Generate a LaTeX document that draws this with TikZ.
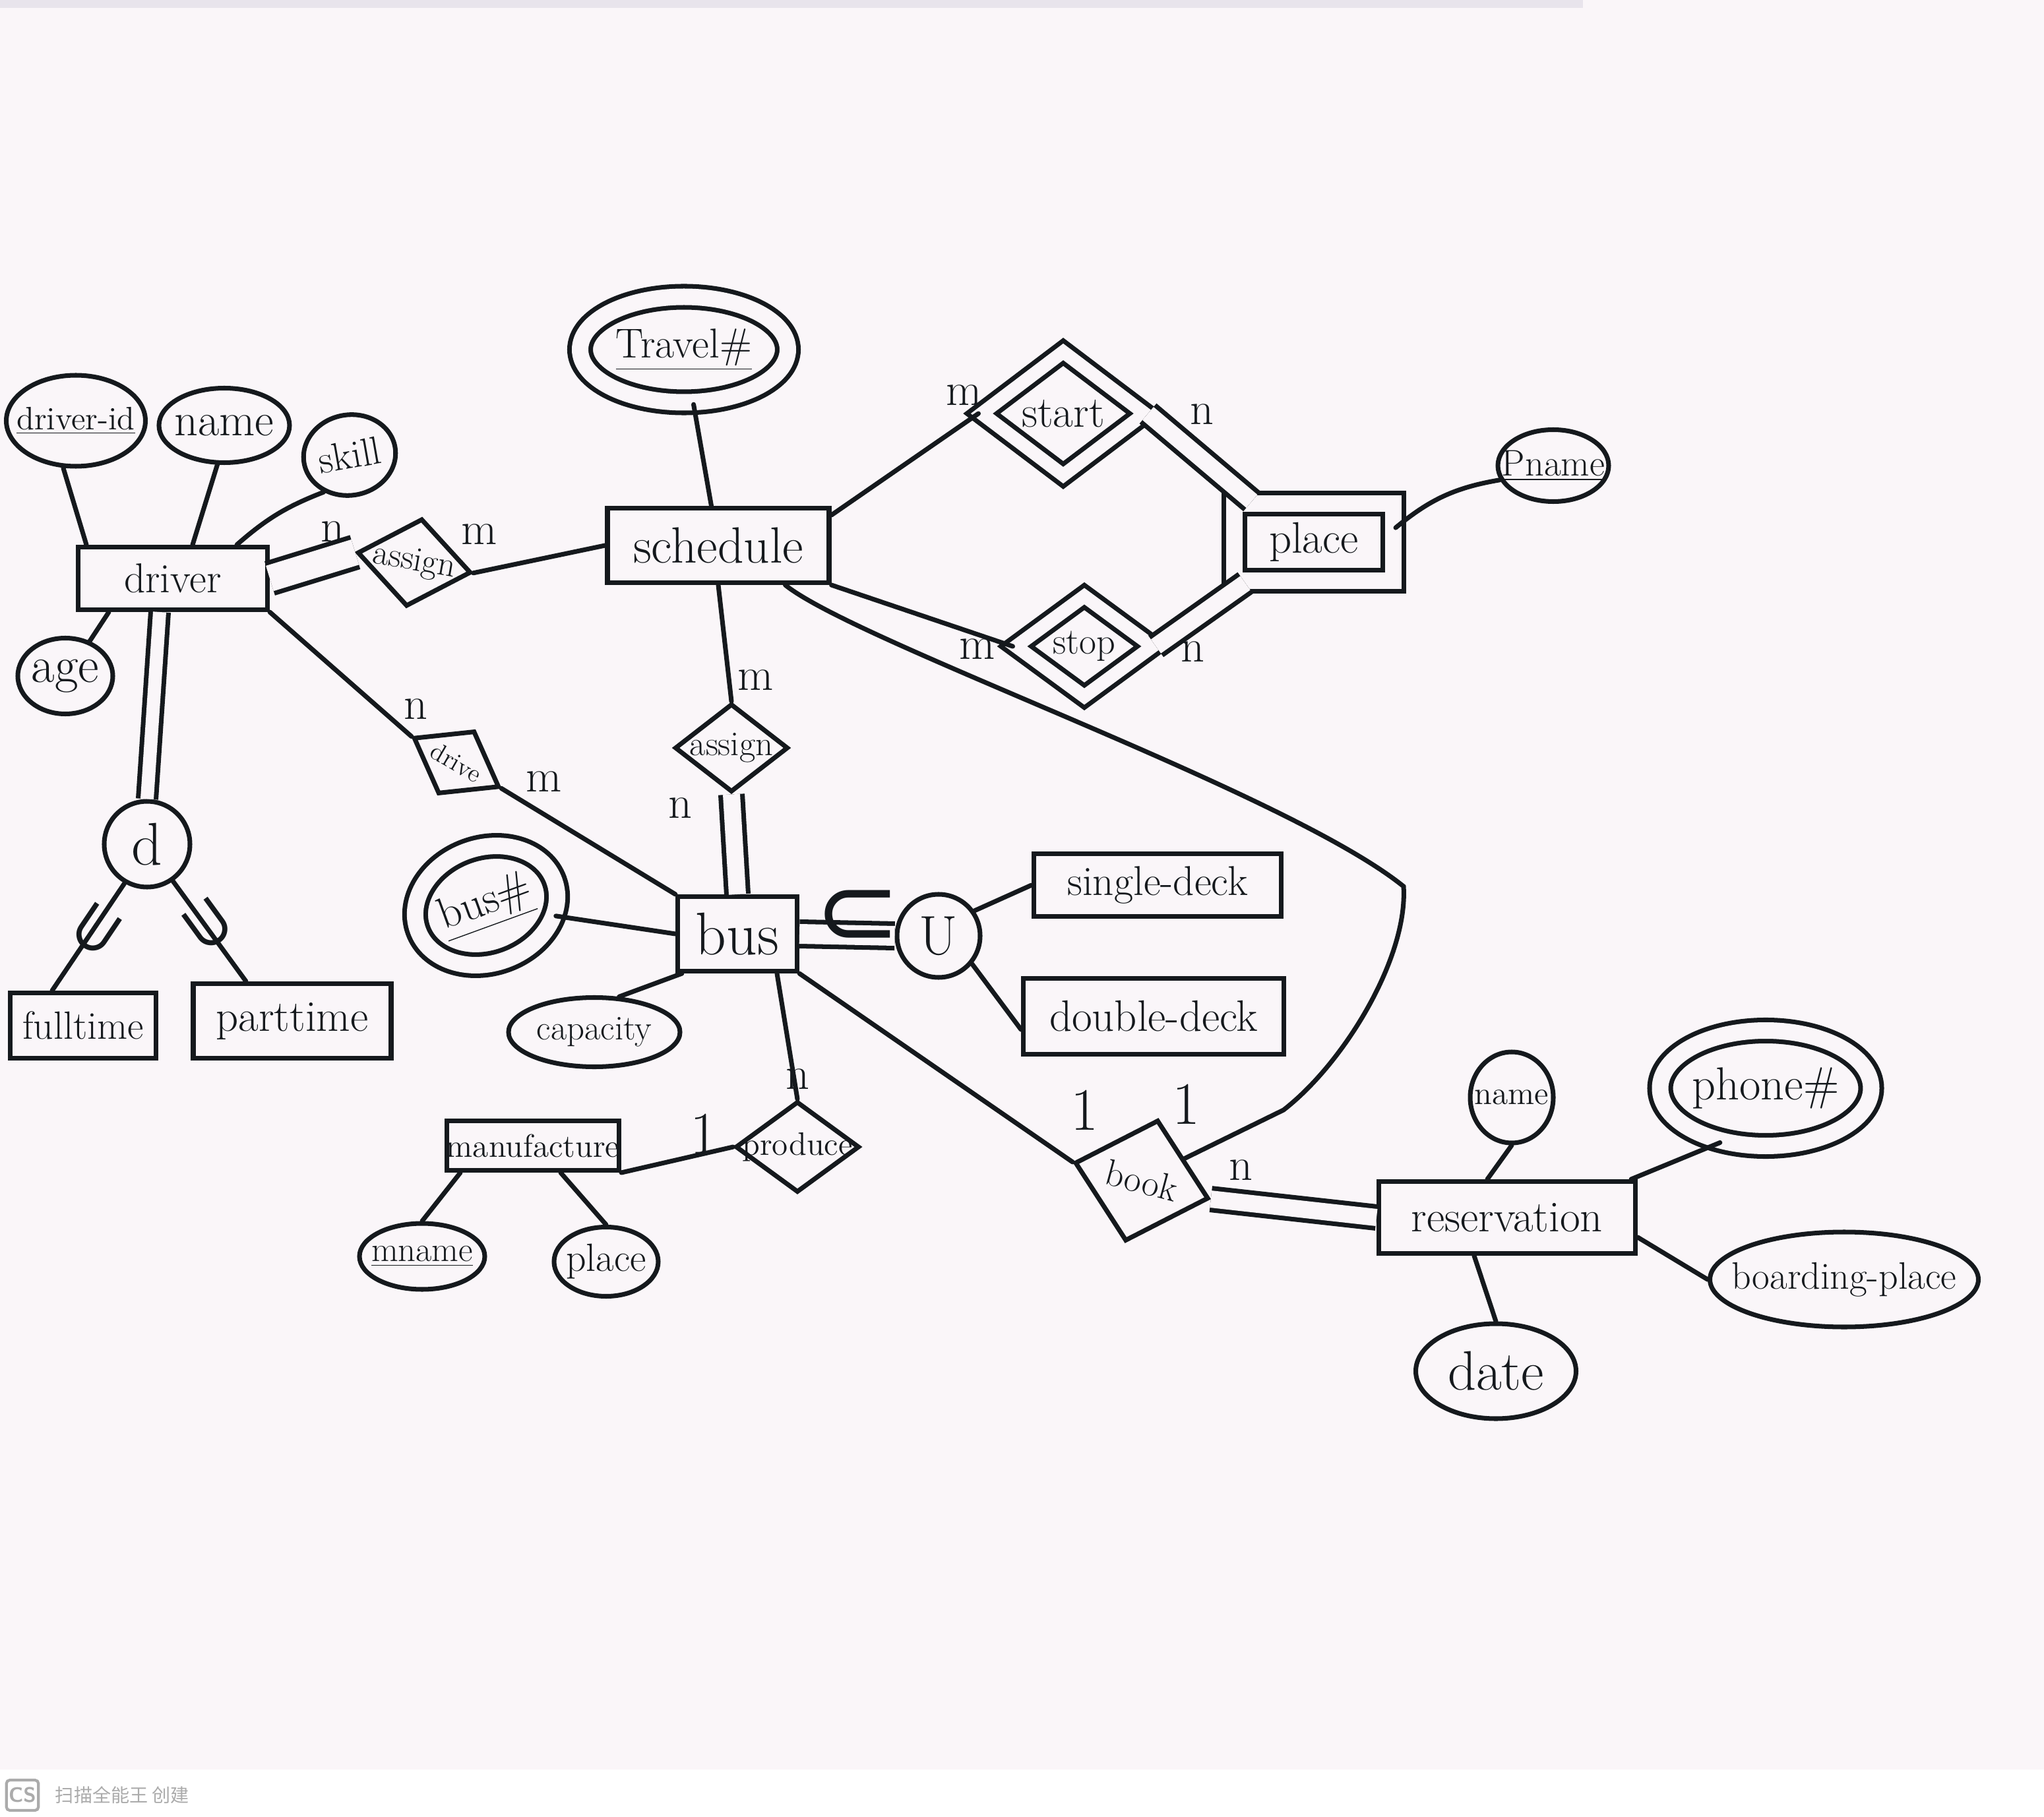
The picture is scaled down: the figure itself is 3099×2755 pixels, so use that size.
\documentclass[tikz,border=0pt]{standalone}
\usepackage{fontspec}
\newfontfamily\cjk{Noto Sans CJK SC}
\newfontfamily\symf{DejaVu Sans}
\usetikzlibrary{shapes.geometric, positioning}
\definecolor{ink}{HTML}{15191D}
\definecolor{paper}{HTML}{FAF6F9}
\definecolor{band}{HTML}{E8E4EC}
\definecolor{wmgray}{HTML}{ABABAB}
\newcommand{\fsz}[1]{\fontsize{#1}{#1}\selectfont}
\newcommand{\ctext}[1]{\makebox[0pt]{#1}}
\tikzset{
  erd/.style = {line width=2pt, draw=ink, text=ink, font=\fsz{18}},
  ent/.style = {rectangle, draw=ink, line width=2pt, inner sep=0pt},
  weakent/.style = {ent, double=paper, double distance=2.5mm},
  attr/.style = {ellipse, draw=ink, line width=2pt, inner sep=0pt},
  multiattr/.style = {attr, double=paper, double distance=2.5mm},
  rel/.style = {diamond, draw=ink, line width=2pt, inner sep=0pt},
  weakrel/.style = {rel, double=paper, double distance=2mm},
  spec/.style = {circle, draw=ink, line width=2pt, inner sep=0pt},
  subsym/.style = {inner sep=0pt, font=\symf\fsz{30}, sloped, allow upside down, text=ink},
  card/.style = {inner sep=1pt, font=\fsz{20}, text=ink},
  link/.style = {draw=ink, line width=2pt, line cap=round},
  total/.style = {draw=ink, line width=2pt, double=paper, double distance=2.6mm},
  wmlogo/.style = {draw=wmgray, rounded corners=1.5pt, line width=1.2pt, text=wmgray,
    font=\sffamily\bfseries\fsz{9}, inner sep=1pt, minimum size=4.6mm},
  wmtext/.style = {text=wmgray, font=\cjk\fsz{8}, inner sep=0pt},
}

\begin{document}
\begin{tikzpicture}[erd, x=0.1mm, y=-0.1mm]

\useasboundingbox (0,0) rectangle (3099,2755);
\fill[paper] (0,0) rectangle (3099,2683);
\fill[band] (0,0) rectangle (2400,12);
\fill[white] (0,2683) rectangle (3099,2755);

% driver side
\node[ent, minimum width=28.7mm, minimum height=9.5mm, font=\fsz{18}] (driver) at (262,877) {\ctext{driver}};
\node[attr, minimum width=21.1mm, minimum height=13.8mm, font=\fsz{14}] (driverid) at (115,638) {\ctext{\underline{driver-id}}};
\node[attr, minimum width=19.8mm, minimum height=11.3mm, font=\fsz{20}] (dname) at (340,645) {\ctext{name}};
\node[attr, minimum width=14mm, minimum height=12.2mm, font=\fsz{17}, rotate=10] (skill) at (530,690) {\ctext{skill}};
\node[attr, minimum width=14.4mm, minimum height=11.5mm, font=\fsz{22}] (age) at (99,1025) {\ctext{age}};
\node[rel, minimum width=17.5mm, minimum height=13.5mm, font=\fsz{15}, rotate=-10] (assignA) at (628,853) {\ctext{assign}};
\node[spec, minimum size=13mm, font=\fsz{26}] (dcirc) at (223,1280) {\ctext{d}};
\node[ent, minimum width=22.1mm, minimum height=9.9mm, font=\fsz{17}] (fulltime) at (126,1555) {\ctext{fulltime}};
\node[ent, minimum width=30mm, minimum height=11.3mm, font=\fsz{19}] (parttime) at (443,1548) {\ctext{parttime}};

% schedule and place
\node[ent, minimum width=33.6mm, minimum height=11.3mm, font=\fsz{22}] (sched) at (1089,827) {\ctext{schedule}};
\node[multiattr, minimum width=31.5mm, minimum height=16mm, font=\fsz{18}] (travel) at (1037,530) {\ctext{\underline{Travel\#}}};
\node[weakrel, minimum width=25mm, minimum height=19mm, font=\fsz{19}] (start) at (1612,627) {\ctext{start}};
\node[weakrel, minimum width=21mm, minimum height=15.5mm, font=\fsz{16}] (stop) at (1644,980) {\ctext{stop}};
\node[weakent, minimum width=24.1mm, minimum height=11.7mm, font=\fsz{19}] (place) at (1992,822) {\ctext{place}};
\node[attr, minimum width=16.8mm, minimum height=10.9mm, font=\fsz{16}] (pname) at (2355,706) {\ctext{\underline{Pname}}};
\node[rel, minimum width=17.2mm, minimum height=13.4mm, font=\fsz{15}] (assignB) at (1109,1134) {\ctext{assign}};
\node[rel, minimum width=15mm, minimum height=11mm, font=\fsz{11}, rotate=-30] (drive) at (692,1156) {\ctext{drive}};

% bus
\node[ent, minimum width=18.1mm, minimum height=11.3mm, font=\fsz{26}] (bus) at (1118,1416) {\ctext{bus}};
\node[multiattr, minimum width=22mm, minimum height=17.5mm, font=\fsz{19}, rotate=20] (busno) at (737,1373) {\ctext{\underline{bus\#}}};
\node[attr, minimum width=26mm, minimum height=10.5mm, font=\fsz{15}] (capacity) at (901,1565) {\ctext{capacity}};
\node[spec, minimum size=12.6mm, font=\fsz{24}] (uni) at (1423,1419) {\ctext{U}};
\node[ent, minimum width=37.5mm, minimum height=9.5mm, font=\fsz{18}] (sdeck) at (1755,1342) {\ctext{single-deck}};
\node[ent, minimum width=39.5mm, minimum height=11.5mm, font=\fsz{19}] (ddeck) at (1749,1541) {\ctext{double-deck}};
\node[ent, minimum width=26.1mm, minimum height=7.5mm, font=\fsz{14}] (manu) at (808,1737) {\ctext{manufacture}};
\node[attr, minimum width=19mm, minimum height=10mm, font=\fsz{15}] (mname) at (640,1905) {\ctext{\underline{mname}}};
\node[attr, minimum width=15.8mm, minimum height=10.5mm, font=\fsz{17}] (mplace) at (919,1913) {\ctext{place}};
\node[rel, minimum width=18.8mm, minimum height=13.8mm, font=\fsz{14}] (produce) at (1209,1739) {\ctext{produce}};

% booking
\node[rel, minimum width=21mm, minimum height=19mm, font=\fsz{16}, rotate=-15] (book) at (1731,1790) {\ctext{book}};
\node[ent, minimum width=38.9mm, minimum height=10.9mm, font=\fsz{19}] (resv) at (2285,1846) {\ctext{reservation}};
\node[attr, minimum width=12.6mm, minimum height=13.8mm, font=\fsz{14}] (rname) at (2292,1664) {\ctext{name}};
\node[multiattr, minimum width=32mm, minimum height=17.5mm, font=\fsz{20}] (phone) at (2677,1650) {\ctext{phone\#}};
\node[attr, minimum width=40.7mm, minimum height=14.4mm, font=\fsz{16.5}] (board) at (2796,1940) {\ctext{boarding-place}};
\node[attr, minimum width=24.3mm, minimum height=14.4mm, font=\fsz{24}] (date) at (2268,2079) {\ctext{date}};

\coordinate (bendA) at (2128,1344);
\coordinate (bendB) at (1946,1683);

% connectors
\draw[link] (driverid.-105) -- ([xshift=1.6mm]driver.north west);
\draw[link] (dname.-100) -- ([xshift=3mm]driver.north);
\draw[link] (skill.-135) to[bend right=10] ([xshift=-5mm]driver.north east);
\draw[link] (age.55) -- ([xshift=5mm]driver.south west);
\draw[total, double distance=4mm] (driver.east) -- (assignA.west);
\draw[link] (assignA.east) -- (sched.west);
\draw[link] (travel) -- (sched);
\draw[link] (sched.15) -- (start.west);
\draw[total] (start.east) -- ([xshift=3mm]place.north west);
\draw[link] (sched.south east) -- (stop.west);
\draw[total] (stop.east) -- ([xshift=2mm]place.south west);
\draw[link] (place.10) to[bend left=15] (pname.-165);
\draw[link] (sched.south) -- (assignB.north);
\draw[total] (assignB.south) -- (bus.north);
\draw[link] (driver.south east) -- (drive.west);
\draw[link] (drive.east) -- (bus.north west);
\draw[link] (busno) -- (bus.west);
\draw[link] (capacity.55) -- ([xshift=1mm]bus.south west);
\draw[total, double distance=3mm] (bus.east) -- (uni.west);
\node[subsym, font=\symf\fsz{44}] (subbus) at (1300,1392) {⊂};
\draw[link] (uni.35) -- (sdeck.west);
\draw[link] (uni.-40) -- ([yshift=-2mm]ddeck.west);
\draw[total, double distance=2mm] ([xshift=-2mm]driver.south) -- (dcirc.north);
\draw[link] (dcirc.-120) -- node[subsym, pos=0.42] (subfull) {⊃} ([xshift=-4.7mm]fulltime.north);
\draw[link] (dcirc.-55) -- node[subsym, pos=0.45] (subpart) {⊃} ([xshift=-7mm]parttime.north);
\draw[link] ([xshift=2.4mm]manu.south west) -- (mname.north);
\draw[link] ([xshift=4.2mm]manu.south) -- (mplace.north);
\draw[link] (manu.south east) -- (produce.west);
\draw[link] ([xshift=6mm]bus.south) -- (produce.north);
\draw[link] (bus.south east) -- (book.west);
\draw[link] ([xshift=-7mm]sched.south east) .. controls (1300,975) and (1950,1200) .. (bendA)
  .. controls (2135,1450) and (2040,1610) .. (bendB) -- (book.north east);
\draw[total] (book.east) -- (resv.west);
\draw[link] ([xshift=-3mm]resv.north) -- (rname.south);
\draw[link] ([xshift=-1mm]resv.north east) -- (phone.-130);
\draw[link] ([yshift=-3mm]resv.east) -- (board.west);
\draw[link] ([xshift=-5mm]resv.south) -- (date.north);

% cardinalities
\node[card] (cDA1) at (504,806) {n};
\node[card] (cDA2) at (727,810) {m};
\node[card] (cSt1) at (1462,599) {m};
\node[card] (cSt2) at (1822,628) {n};
\node[card] (cSp1) at (1482,984) {m};
\node[card] (cSp2) at (1808,988) {n};
\node[card] (cAB1) at (1146,1031) {m};
\node[card] (cAB2) at (1031,1225) {n};
\node[card] (cDv1) at (630,1075) {n};
\node[card] (cDv2) at (825,1185) {m};
\node[card] (cPr1) at (1209,1636) {n};
\node[card, font=\fsz{26}] (cPr2) at (1067,1719) {1};
\node[card, font=\fsz{26}] (cBk1) at (1644,1683) {1};
\node[card, font=\fsz{26}] (cBk2) at (1798,1674) {1};
\node[card] (cBk3) at (1881,1774) {n};

% scanner mark
\node[wmlogo] (cslogo) at (34,2722) {CS};
\node[wmtext, right=2mm of cslogo] (cstext) {扫描全能王 创建};

\end{tikzpicture}
\end{document}
